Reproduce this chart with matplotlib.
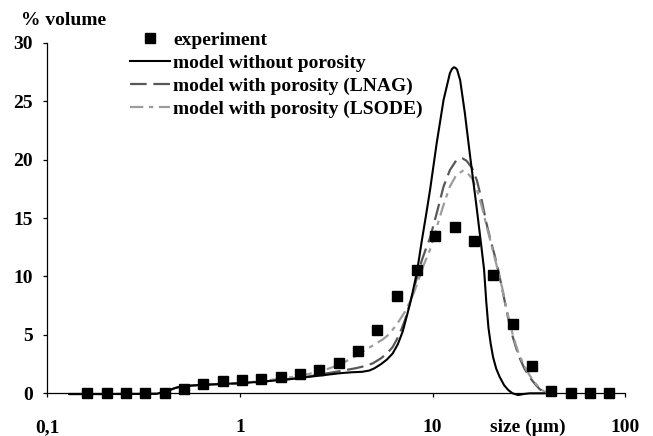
import matplotlib
matplotlib.use("Agg")
import matplotlib.pyplot as plt
from matplotlib.ticker import FixedLocator, NullLocator

plt.rcParams['font.family'] = ['Liberation Serif', 'DejaVu Serif']
plt.rcParams['font.weight'] = 'bold'
plt.rcParams['font.size'] = 14

# experiment (size in µm, % volume)
exp_size = [0.161, 0.203, 0.256, 0.323, 0.407, 0.512, 0.645, 0.813, 1.024, 1.29,
            1.63, 2.05, 2.58, 3.25, 4.09, 5.16, 6.55, 8.3, 10.3, 13.0,
            16.4, 20.6, 26.0, 32.7, 41.2, 52.0, 65.5, 82.4]
exp_vol = [0, 0, 0, 0, 0, 0.4, 0.8, 1.05, 1.14, 1.2,
           1.39, 1.65, 2.02, 2.59, 3.62, 5.41, 8.35, 10.57, 13.48, 14.2,
           13.03, 10.09, 5.9, 2.34, 0.22, 0, 0, 0]

# model without porosity
nopor_size = [0.13, 0.2, 0.3, 0.37, 0.42, 0.46, 0.5, 0.6, 0.8, 1.0,
              1.3, 1.8, 2.2, 2.7, 3.3, 3.8, 4.3, 4.7, 5.0, 5.4,
              5.8, 6.2, 6.6, 7.0, 7.4, 7.8, 8.3, 8.8, 9.3, 9.7,
              10.5, 11.4, 12.3, 12.6, 12.9, 13.15, 13.4, 13.9, 14.7, 15.6,
              16.9, 17.9, 18.5, 19.0, 19.5, 20.0, 20.6, 21.4, 22.3, 23.5,
              24.7, 26.0, 27.8, 30, 32, 38]
nopor_vol = [-0.06, -0.06, -0.05, -0.04, 0.2, 0.45, 0.6, 0.7, 0.8, 0.86,
             1.0, 1.2, 1.38, 1.55, 1.72, 1.8, 1.84, 1.95, 2.15, 2.5,
             2.9, 3.4, 4.2, 5.3, 6.8, 8.3, 10.4, 13.1, 15.5, 17.4,
             21.4, 25.1, 27.4, 27.75, 27.9, 27.85, 27.7, 26.8, 24.0, 20.5,
             16.0, 12.6, 10.6, 7.8, 5.6, 4.3, 3.1, 2.1, 1.4, 0.7,
             0.28, 0.0, -0.15, -0.05, 0, 0]

# model with porosity (LNAG)
lnag_size = [0.13, 0.2, 0.3, 0.37, 0.42, 0.46, 0.5, 0.6, 0.8, 1.0,
             1.3, 1.8, 2.2, 2.7, 3.3, 4.0, 4.5, 4.9, 5.4, 5.8,
             6.2, 6.5, 6.9, 7.2, 7.6, 7.95, 8.4, 8.8, 9.2, 9.7,
             10.5, 11.4, 12.3, 13.3, 14.3, 15.0, 16.0, 17.0, 18.0, 19.0,
             20.0, 21.0, 22.0, 23.0, 24.0, 25.0, 26.0, 27.0, 28.0,
             30.0, 32.0, 34.0, 36.0, 38.0, 40.0]
lnag_vol = [-0.06, -0.06, -0.05, -0.04, 0.2, 0.45, 0.6, 0.7, 0.8, 0.86,
            1.0, 1.22, 1.4, 1.65, 1.9, 2.15, 2.35, 2.57, 3.0, 3.42,
            3.95, 4.56, 5.5, 6.3, 7.6, 8.84, 10.2, 11.4, 12.3, 13.3,
            15.4, 17.7, 19.1, 19.96, 20.1, 19.9, 19.3, 18.2, 16.5, 14.6,
            13.1, 11.8, 10.4, 8.9, 7.4, 6.0, 4.9, 4.0, 3.2,
            2.1, 1.35, 0.8, 0.35, 0.1, 0.0]

# model with porosity (LSODE)
lsode_size = [0.13, 0.2, 0.3, 0.37, 0.42, 0.46, 0.5, 0.6, 0.8, 1.0,
              1.3, 1.8, 2.2, 2.7, 3.3, 4.0, 4.9, 5.5, 6.0, 6.7,
              7.2, 7.6, 8.0, 8.4, 9.0, 9.7, 10.3, 10.9, 11.6, 12.3,
              13.3, 14.4, 15.0, 16.0, 17.0, 18.0, 19.0, 20.0, 21.0, 22.0,
              23.0, 24.0, 25.0, 26.0, 27.0, 28.0,
              30.0, 32.0, 34.0, 36.0, 38.0, 40.0, 42.0]
lsode_vol = [-0.06, -0.06, -0.05, -0.04, 0.2, 0.45, 0.6, 0.7, 0.8, 0.88,
             1.05, 1.35, 1.6, 1.95, 2.45, 3.2, 4.1, 4.6, 5.1, 6.2,
             7.0, 7.8, 8.6, 9.6, 11.0, 12.3, 13.7, 15.1, 16.5, 17.7,
             18.7, 19.05, 18.95, 18.4, 17.4, 16.0, 14.4, 13.0, 11.6, 10.3,
             9.0, 7.5, 6.2, 5.1, 4.2, 3.4,
             2.3, 1.5, 0.9, 0.45, 0.15, 0.02, 0.0]

x_ticks = [0.1, 1, 10, 100]
x_tick_labels = ["0,1", "1", "10", "100"]
y_ticks = [0, 5, 10, 15, 20, 25, 30]

fig = plt.figure(figsize=(6.53, 4.36), dpi=100)
ax = fig.add_axes([0.0724, 0.0979, 0.8851, 0.8041])

l1, = ax.plot(nopor_size, nopor_vol, color='black', lw=1.5, clip_on=False, zorder=4)
l2, = ax.plot(lnag_size, lnag_vol, color='#585858', lw=1.6, dashes=(7.5, 3), clip_on=False, zorder=3)
l3, = ax.plot(lsode_size, lsode_vol, color='#9c9c9c', lw=1.6, dashes=(6, 2.5, 2, 2.5), clip_on=False, zorder=3)
p1, = ax.plot(exp_size, exp_vol, 's', color='black', ms=7, clip_on=False, zorder=5)

ax.set_xscale('log')
ax.set_xlim(0.1, 100)
ax.set_ylim(0, 30)
ax.xaxis.set_major_locator(FixedLocator(x_ticks))
ax.xaxis.set_minor_locator(NullLocator())
ax.set_xticklabels(x_tick_labels)
ax.set_yticks(y_ticks)

for s in ['top', 'right']:
    ax.spines[s].set_visible(False)
for s in ['left', 'bottom']:
    ax.spines[s].set_linewidth(0.9)
ax.tick_params(axis='x', length=3.2, width=0.9, pad=15.5)
ax.tick_params(axis='y', length=3.2, width=0.9, pad=7)

fig.text(0.098, 0.954, "% volume", ha='center', va='center', fontsize=14, fontweight='bold')
fig.text(0.8086, 0.0206, "size (µm)", ha='center', va='center', fontsize=14, fontweight='bold')

ax.legend([p1, l1, l2, l3],
          ["experiment", "model without porosity",
           "model with porosity (LNAG)", "model with porosity (LSODE)"],
          loc='upper left', bbox_to_anchor=(0.199, 0.928), bbox_transform=fig.transFigure,
          frameon=False, borderpad=0, borderaxespad=0, handlelength=2.06,
          handletextpad=0.15, labelspacing=0.28, fontsize=14)

fig.savefig("out.png", dpi=100)
